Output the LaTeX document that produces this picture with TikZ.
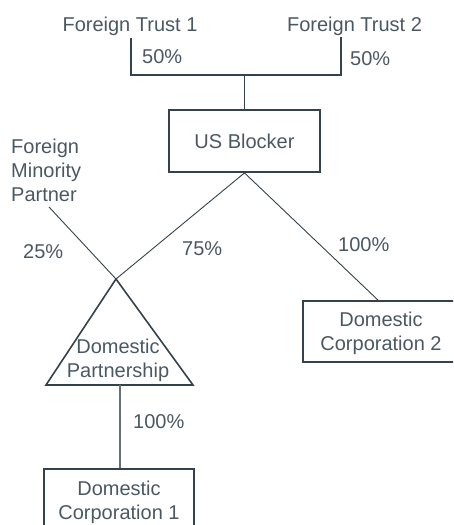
\documentclass[tikz,border=0pt]{standalone}
\usepackage{fontspec}
\setmainfont{Liberation Sans}
\definecolor{txtc}{RGB}{74,88,98}
\definecolor{linc}{RGB}{52,66,76}
\definecolor{linc2}{RGB}{100,112,120}
\begin{document}
\begin{tikzpicture}[x=1pt,y=-1pt,
  lbl/.style={text=txtc, font=\fontsize{20}{24}\selectfont, inner sep=0pt},
  boxn/.style={draw=linc, line width=1.8pt, text=txtc, font=\fontsize{20}{24}\selectfont,
    align=center, inner sep=0pt, text depth=0pt},
  topline/.style={draw=linc, line width=1.9pt},
  diag/.style={draw=linc, line width=0.9pt},
  vline/.style={draw=linc2, line width=1.2pt},
  tri/.style={draw=linc, line width=1.6pt, line join=miter}
]
\useasboundingbox (0,0) rectangle (453,525);
\clip (0,0) rectangle (453,525);

% top owners
\node[lbl, anchor=base] (ft1) at (130,31.7) {Foreign Trust 1};
\node[lbl, anchor=base] (ft2) at (354.5,31.7) {Foreign Trust 2};
\node[lbl, anchor=base west] (p1) at (142,63.3) {50\%};
\node[lbl, anchor=base west] (p2) at (350,65) {50\%};

% boxes
\node[boxn, minimum width=151pt, minimum height=62pt] (usb) at (244.5,141) {US Blocker};
\node[boxn, minimum width=156pt, minimum height=61pt] (dc2) at (381,331.5) {Domestic\\Corporation 2};
\node[boxn, minimum width=150pt, minimum height=62pt] (dc1) at (119,500) {Domestic\\Corporation 1};

% foreign minority partner
\node[lbl, anchor=north west, align=left] (fmp) at (11,139) {Foreign\\Minority\\Partner};

% percentages
\node[lbl, anchor=base west] (p25) at (23,258.3) {25\%};
\node[lbl, anchor=base west] (p75) at (182,255) {75\%};
\node[lbl, anchor=base west] (p100a) at (338,251.7) {100\%};
\node[lbl, anchor=base west] (p100b) at (133,428) {100\%};

% triangle (partnership)
\coordinate (apex) at (116,279);
\coordinate (bl) at (46,385);
\coordinate (br) at (193,385);
\coordinate (bm) at (120,385);
\draw[tri] (apex) -- (bl) -- (br) -- cycle;
\node[lbl, anchor=north, align=center, text depth=0pt] (dp) at (118,339) {Domestic\\Partnership};

% connectors
\coordinate (t1) at (131,38);
\coordinate (t2) at (341,37);
\coordinate (j) at (244.5,75);
\draw[topline] (t1) |- (j) -| (t2);
\draw[topline] (j) -- (usb.north);

\coordinate (fmpend) at (49,207);
\draw[diag] (usb.south) -- (apex);
\draw[diag] (fmpend) -- (apex);
\draw[diag] (usb.south) -- ([xshift=-3pt]dc2.north);
\draw[vline] (bm) -- (bm |- dc1.north);
\end{tikzpicture}
\end{document}
